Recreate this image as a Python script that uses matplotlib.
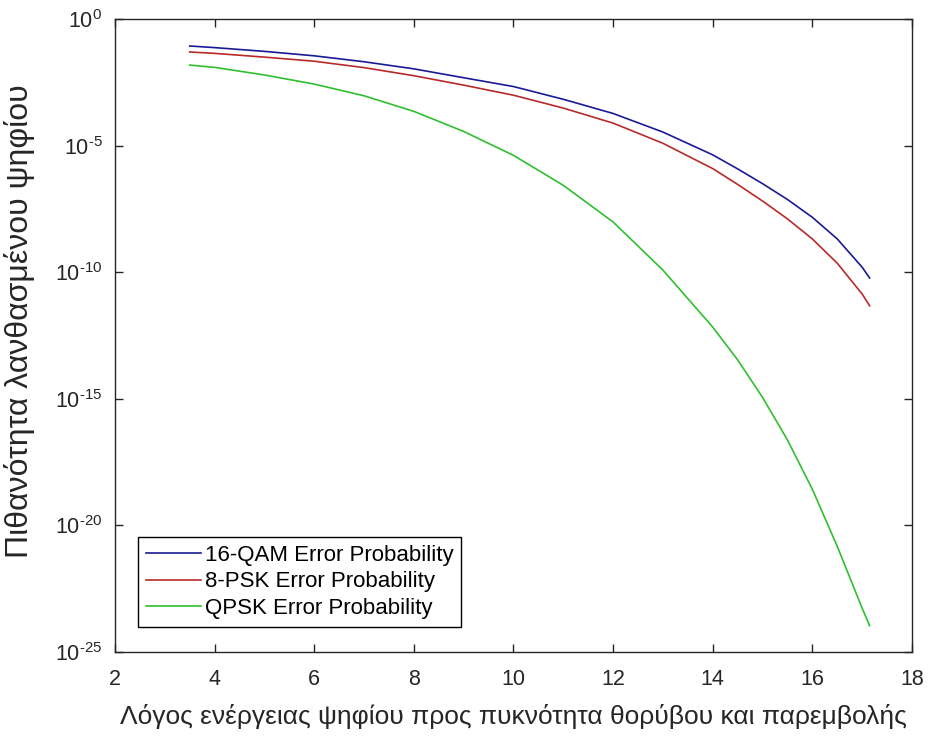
import matplotlib
matplotlib.use("Agg")
import matplotlib.pyplot as plt

plt.rcParams['font.family'] = ['Liberation Sans', 'DejaVu Sans']
plt.rcParams['mathtext.fontset'] = 'custom'
plt.rcParams['mathtext.rm'] = 'Liberation Sans'

# Eb/N0 points
snr_qam_psk = [3.5, 4, 5, 6, 7, 8, 9, 10, 11, 12, 13, 14, 14.5, 15, 15.5, 16, 16.5, 17, 17.15]
snr_qpsk = [3.5, 4, 5, 6, 7, 8, 9, 10, 11, 12, 13, 14, 14.5, 15, 15.5, 16, 16.5, 17, 17.15]

# error probabilities
pe_16qam = [8.8e-2, 7.6e-2, 5.4e-2, 3.6e-2, 2.1e-2, 1.1e-2, 4.9e-3, 2.2e-3, 6.9e-4,
            1.9e-4, 3.5e-5, 4.4e-6, 1.23e-6, 3.2e-7, 7.6e-8, 1.5e-8, 2.1e-9, 1.6e-10, 6.0e-11]
pe_8psk = [5.1e-2, 4.5e-2, 3.2e-2, 2.2e-2, 1.23e-2, 5.9e-3, 2.5e-3, 1.0e-3, 3.1e-4,
           7.9e-5, 1.26e-5, 1.26e-6, 3.0e-7, 6.6e-8, 1.3e-8, 2.1e-9, 2.3e-10, 1.4e-11, 4.8e-12]
pe_qpsk = [1.55e-2, 1.26e-2, 6.3e-3, 2.75e-3, 9.5e-4, 2.3e-4, 3.7e-5, 4.2e-6, 2.75e-7,
           9.8e-9, 1.23e-10, 6.9e-13, 3.5e-14, 1.15e-15, 2.4e-17, 2.7e-19, 1.5e-21, 5.4e-24, 1.1e-24]

xticks = [2, 4, 6, 8, 10, 12, 14, 16, 18]
yticks = [1e0, 1e-5, 1e-10, 1e-15, 1e-20, 1e-25]
ytick_labels = [r'$\mathregular{10^{0}}$', r'$\mathregular{10^{\text{-}5}}$', r'$\mathregular{10^{\text{-}10}}$',
                r'$\mathregular{10^{\text{-}15}}$', r'$\mathregular{10^{\text{-}20}}$', r'$\mathregular{10^{\text{-}25}}$']

fig = plt.figure(figsize=(9.32, 7.36), dpi=100)
ax = fig.add_axes([0.1234, 0.1141, 0.8551, 0.8597])

ax.semilogy(snr_qam_psk, pe_16qam, color='#1a1a96', linewidth=1.2, label='16-QAM Error Probability')
ax.semilogy(snr_qam_psk, pe_8psk, color='#b82a2a', linewidth=1.2, label='8-PSK Error Probability')
ax.semilogy(snr_qpsk, pe_qpsk, color='#2fbf2f', linewidth=1.2, label='QPSK Error Probability')

ax.set_xlim(2, 18)
ax.set_ylim(1e-25, 1e0)
ax.set_xticks(xticks)
ax.set_yticks(yticks)
ax.set_yticklabels(ytick_labels)
ax.minorticks_off()

axis_col = '#262626'
ax.tick_params(direction='in', top=True, right=True, length=6, width=1,
               colors=axis_col, labelsize=15.5)
ax.tick_params(axis='x', pad=12)
ax.tick_params(axis='y', pad=9)
for s in ax.spines.values():
    s.set_color(axis_col)
    s.set_linewidth(1)

ax.set_xlabel('Λόγος ενέργειας ψηφίου προς πυκνότητα θορύβου και παρεμβολής',
              fontsize=19, color=axis_col, labelpad=10)
ax.set_ylabel('Πιθανότητα λανθασμένου ψηφίου', fontsize=23, color=axis_col)
ax.yaxis.set_label_coords(-0.10, 0.5225)

leg = ax.legend(loc='lower left', bbox_to_anchor=(0.029, 0.04), fontsize=16,
                fancybox=False, edgecolor='black', framealpha=1, handlelength=2.5,
                handletextpad=0.15, borderpad=0.35, labelspacing=0.25, borderaxespad=0)
leg.get_frame().set_linewidth(1)

fig.savefig('out.png', dpi=100)
